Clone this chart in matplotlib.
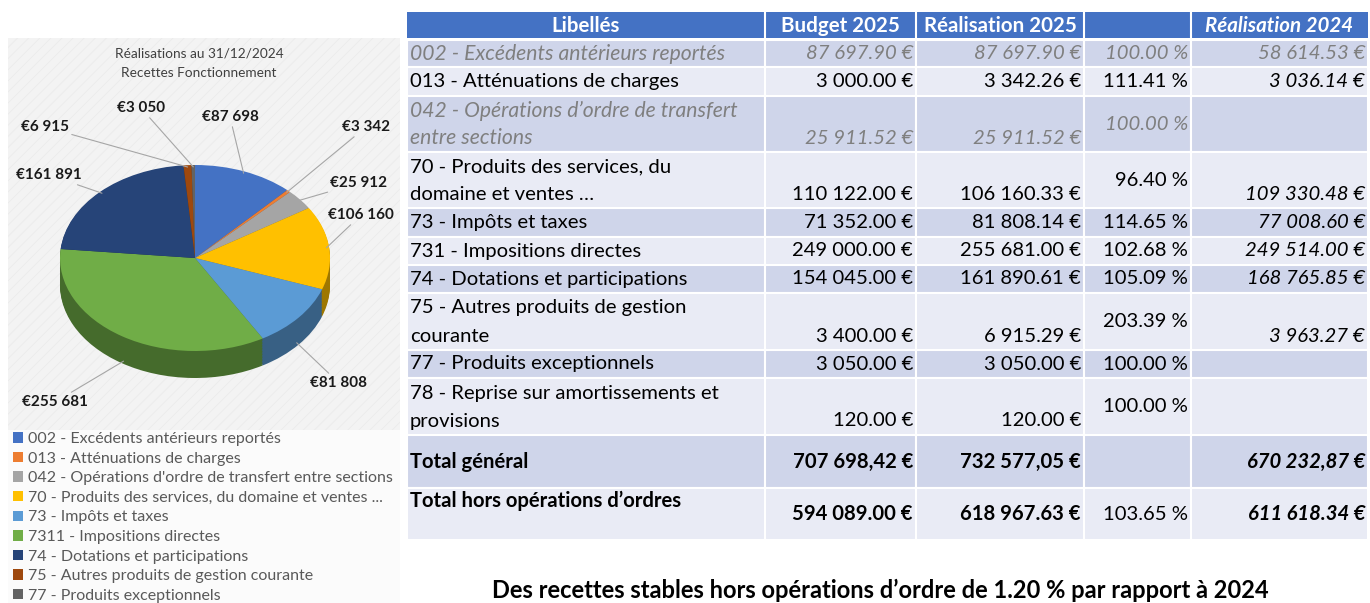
import numpy as np
import matplotlib
matplotlib.use("Agg")
import matplotlib.pyplot as plt
from matplotlib.patches import Rectangle

plt.rcParams['font.family'] = ['Lato', 'DejaVu Sans']
plt.rcParams['hatch.linewidth'] = 0.6

# ---- pie data (réalisations au 31/12/2024) ----
pie_labels = [
    "002 - Excédents antérieurs reportés",
    "013 - Atténuations de charges",
    "042 - Opérations d'ordre de transfert entre sections",
    "70 - Produits des services, du domaine et ventes ...",
    "73 - Impôts et taxes",
    "7311 - Impositions directes",
    "74 - Dotations et participations",
    "75 - Autres produits de gestion courante",
    "77 - Produits exceptionnels",
]
pie_values = [87698, 3342, 25912, 106160, 81808, 255681, 161891, 6915, 3050]
pie_colors = ['#4472c4', '#ed7d31', '#a5a5a5', '#ffc000', '#5b9bd5',
              '#70ad47', '#264478', '#9e480e', '#636363']

# ---- table data ----
libelles = [
    "002 - Excédents antérieurs reportés",
    "013 - Atténuations de charges",
    "042 - Opérations d’ordre de transfert\nentre sections",
    "70 - Produits des services, du\ndomaine et ventes …",
    "73 - Impôts et taxes",
    "731 - Impositions directes",
    "74 - Dotations et participations",
    "75 - Autres produits de gestion\ncourante",
    "77 - Produits exceptionnels",
    "78 - Reprise sur amortissements et\nprovisions",
]
budget_2025 = [87697.90, 3000.00, 25911.52, 110122.00, 71352.00, 249000.00,
               154045.00, 3400.00, 3050.00, 120.00]
real_2025 = [87697.90, 3342.26, 25911.52, 106160.33, 81808.14, 255681.00,
             161890.61, 6915.29, 3050.00, 120.00]
taux = [100.00, 111.41, 100.00, 96.40, 114.65, 102.68, 105.09, 203.39, 100.00, 100.00]
real_2024 = [58614.53, 3036.14, None, 109330.48, 77008.60, 249514.00,
             168765.85, 3963.27, None, None]
ordre = [True, False, True, False, False, False, False, False, False, False]

total_labels = ["Total général", "Total hors opérations d’ordres"]
total_budget = [707698.42, 594089.00]
total_real = [732577.05, 618967.63]
total_taux = [None, 103.65]
total_2024 = [670232.87, 611618.34]
total_dec = [",", "."]

headers = ["Libellés", "Budget 2025", "Réalisation 2025", "", "Réalisation 2024"]
caption = "Des recettes stables hors opérations d’ordre de 1.20 % par rapport à 2024"


def fmt_eur(v, dec="."):
    s = f"{v:,.2f}".replace(",", " ")
    if dec == ",":
        s = s.replace(".", ",")
    return s + " €"


def darker(c, f=0.62):
    r, g, b = matplotlib.colors.to_rgb(c)
    return (r * f, g * f, b * f)


fig = plt.figure(figsize=(13.7, 6.03), dpi=100)
bg = fig.add_axes([0, 0, 1, 1])
bg.set_xlim(0, 1370)
bg.set_ylim(603, 0)
bg.axis('off')

# chart panel
bg.add_patch(Rectangle((8, 38), 392, 392, fc='#f3f3f3', ec='#ebebeb', lw=0, hatch='///'))
bg.add_patch(Rectangle((8, 430), 392, 173, fc='#fbfbfb', lw=0))
bg.text(199, 54, "Réalisations au 31/12/2024", ha='center', va='center', fontsize=9.8, color='#404040')
bg.text(199, 73, "Recettes Fonctionnement", ha='center', va='center', fontsize=9.8, color='#404040')

# ---- 3D-ish pie ----
cx, cy, rx, ry, depth = 195, 258, 135, 93, 27
pax = fig.add_axes([8 / 1370, (603 - 430) / 603, 392 / 1370, 392 / 603])
pax.patch.set_visible(False)
d = depth / ry
for k in np.linspace(d, 0.01, 18):
    pax.pie(pie_values, colors=[darker(c) for c in pie_colors], startangle=90,
            counterclock=False, center=(0, -k), wedgeprops=dict(lw=0))
wedges, _ = pax.pie(pie_values, colors=pie_colors, startangle=90, counterclock=False,
                    wedgeprops=dict(lw=0))
pax.set_aspect('auto')
pax.set_xlim(-(cx - 8) / rx, (400 - cx) / rx)
pax.set_ylim(-(430 - cy) / ry, (cy - 38) / ry)
pax.axis('off')

label_pos = [(230, 117), (366, 127), (359, 183), (361, 215), (339, 383),
             (55, 402), (49, 175), (45, 127), (141, 108)]
total = sum(pie_values)
cum = 0
for v, pos in zip(pie_values, label_pos):
    mid = 90 - (cum + v / 2) / total * 360
    cum += v
    x, y = np.cos(np.radians(mid)), np.sin(np.radians(mid))
    if y < -0.2:
        y -= d
    txt = "€" + f"{v:,}".replace(",", " ")
    pax.annotate(txt, xy=(x * 0.98, y * 0.98), xycoords='data', xytext=pos,
                 textcoords=bg.transData, ha='center', va='center', fontsize=11,
                 fontweight='bold', color='#1a1a1a',
                 arrowprops=dict(arrowstyle='-', color='#a6a6a6', lw=0.8,
                                 shrinkA=0, shrinkB=0))

# legend
handles = [Rectangle((0, 0), 1, 1, fc=c, lw=0) for c in pie_colors]
leg = fig.legend(handles, pie_labels, loc='upper left',
                 bbox_to_anchor=(13 / 1370, 1 - 432 / 603), frameon=False,
                 fontsize=11.5, handlelength=0.62, handleheight=0.62, handletextpad=0.35,
                 labelspacing=0.35, borderaxespad=0, borderpad=0)
for t in leg.get_texts():
    t.set_color('#595959')

# ---- table ----
col_x = [407, 765, 916, 1084, 1191, 1368]
bg.add_patch(Rectangle((407, 12), 1368 - 407, 26, fc='#4472c4', lw=0))
for i, h in enumerate(headers):
    x0, x1 = col_x[i], col_x[i + 1]
    if i > 0:
        bg.plot([x0, x0], [12, 38], color='white', lw=1.5)
    bg.text((x0 + x1) / 2, 25.5, h, ha='center', va='center', color='white',
            fontsize=14.8, fontweight='bold', fontstyle='italic' if i == 4 else 'normal')

tops = [40, 67, 96, 152, 208, 237, 265, 293, 350, 378, 435, 488, 540]
row_fc = ['#cfd5ea', '#e9ebf5']
for r in range(len(tops) - 1):
    t0, t1 = tops[r], tops[r + 1]
    for c in range(5):
        bg.add_patch(Rectangle((col_x[c], t0), col_x[c + 1] - col_x[c], t1 - t0,
                               fc=row_fc[r % 2], ec='white', lw=1.5))

rx_right = [c - 3 for c in col_x[2:]]
fs = 14.6
for r, lab in enumerate(libelles):
    t0, t1 = tops[r], tops[r + 1]
    col = '#7f7f7f' if ordre[r] else 'black'
    sty = 'italic' if ordre[r] else 'normal'
    lfs = fs * 1.04 if ordre[r] else fs
    lines = lab.split("\n")
    if len(lines) == 2:
        ys = [t0 + 15, t1 - 14]
        yv = t1 - 14
    else:
        ys = [(t0 + t1) / 2]
        yv = (t0 + t1) / 2
    yc = (t0 + t1) / 2
    for ln, yy in zip(lines, ys):
        bg.text(410, yy, ln, ha='left', va='center', fontsize=lfs, color=col, fontstyle=sty)
    bg.text(rx_right[0], yv, fmt_eur(budget_2025[r]), ha='right', va='center',
            fontsize=fs, color=col, fontstyle=sty)
    bg.text(rx_right[1], yv, fmt_eur(real_2025[r]), ha='right', va='center',
            fontsize=fs, color=col, fontstyle=sty)
    bg.text(rx_right[2], yc if len(lines) == 2 else yv, f"{taux[r]:.2f} %", ha='right',
            va='center', fontsize=fs, color=col, fontstyle=sty)
    if real_2024[r] is not None:
        bg.text(rx_right[3], yv, fmt_eur(real_2024[r]), ha='right', va='center',
                fontsize=fs, color=col, fontstyle='italic')

for k, lab in enumerate(total_labels):
    r = len(libelles) + k
    t0, t1 = tops[r], tops[r + 1]
    yc = (t0 + t1) / 2
    ylab = yc if k == 0 else t0 + 13
    bg.text(410, ylab, lab, ha='left', va='center', fontsize=fs, fontweight='bold')
    bg.text(rx_right[0], yc, fmt_eur(total_budget[k], total_dec[k]), ha='right',
            va='center', fontsize=fs, fontweight='bold')
    bg.text(rx_right[1], yc, fmt_eur(total_real[k], total_dec[k]), ha='right',
            va='center', fontsize=fs, fontweight='bold')
    if total_taux[k] is not None:
        bg.text(rx_right[2], yc, f"{total_taux[k]:.2f} %", ha='right', va='center', fontsize=fs)
    bg.text(rx_right[3], yc, fmt_eur(total_2024[k], total_dec[k]), ha='right',
            va='center', fontsize=fs, fontweight='bold', fontstyle='italic')

bg.text(880, 590, caption, ha='center', va='center', fontsize=17, fontweight='bold')

fig.savefig('out.png', dpi=100)
